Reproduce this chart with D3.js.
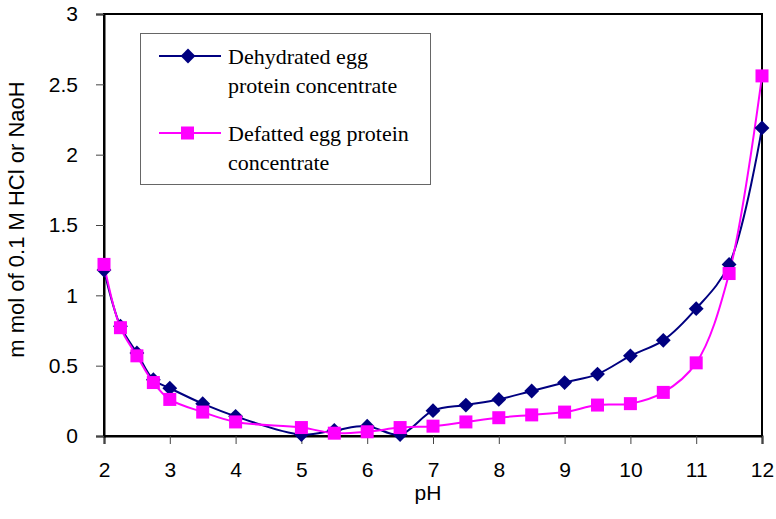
<!DOCTYPE html>
<html><head><meta charset="utf-8">
<script src="https://cdn.jsdelivr.net/npm/d3@7"></script>
<style>body{margin:0;background:#fff}svg{display:block}</style>
</head><body>
<script>
const pH = [2, 2.25, 2.5, 2.75, 3, 3.5, 4, 5, 5.5, 6, 6.5, 7, 7.5, 8, 8.5, 9, 9.5, 10, 10.5, 11, 11.5, 12];
const dehydrated = [1.18, 0.78, 0.59, 0.40, 0.34, 0.23, 0.14, 0.01, 0.04, 0.07, 0.01, 0.18, 0.22, 0.26, 0.32, 0.38, 0.44, 0.57, 0.68, 0.905, 1.22, 2.19];
const defatted = [1.22, 0.77, 0.57, 0.38, 0.26, 0.17, 0.10, 0.06, 0.02, 0.03, 0.06, 0.07, 0.10, 0.13, 0.15, 0.17, 0.22, 0.23, 0.31, 0.52, 1.155, 2.56];
const xTicks = [2, 3, 4, 5, 6, 7, 8, 9, 10, 11, 12];
const yTicks = [0, 0.5, 1, 1.5, 2, 2.5, 3];
const seriesNames = ["Dehydrated egg|protein concentrate", "Defatted egg protein|concentrate"];
const seriesColors = ["#000080", "#ff00ff"];

const W = 776, H = 519;
const svg = d3.select("body").append("svg").attr("width", W).attr("height", H);
const x = d3.scaleLinear().domain([2, 12]).range([104, 762]);
const y = d3.scaleLinear().domain([0, 3]).range([436, 14]);
const sans = "Liberation Sans, Arial, sans-serif";

// plot frame
svg.append("rect").attr("x", 104).attr("y", 14).attr("width", 658).attr("height", 422)
  .attr("fill", "none").attr("stroke", "#000").attr("stroke-width", 2);

const xAxis = svg.append("g").attr("transform", "translate(0,436)")
  .call(d3.axisBottom(x).tickValues(xTicks).tickSize(8).tickPadding(18).tickFormat(d3.format("d")));
const yAxis = svg.append("g").attr("transform", "translate(104,0)")
  .call(d3.axisLeft(y).tickValues(yTicks).tickSize(8).tickPadding(18).tickFormat(d => String(d)));
[xAxis, yAxis].forEach(g => {
  g.select(".domain").attr("stroke", "#000").attr("stroke-width", 2);
  g.selectAll(".tick line").attr("stroke", "#444").attr("stroke-width", 1);
  g.selectAll("text").attr("font-family", sans).attr("font-size", 21).attr("fill", "#000");
});
xAxis.selectAll("text").attr("dy", "0.71em");

svg.append("text").attr("x", 428).attr("y", 500).attr("text-anchor", "middle")
  .attr("font-family", sans).attr("font-size", 21).text("pH");
svg.append("text").attr("transform", "translate(24,219.5) rotate(-90)").attr("text-anchor", "middle")
  .attr("font-family", sans).attr("font-size", 22)
  .text("m mol of 0.1 M HCl or NaoH");

const line = d3.line().x(d => x(d[0])).y(d => y(d[1])).curve(d3.curveCatmullRom.alpha(0.5));

const data = [dehydrated, defatted];
data.forEach((vals, i) => {
  const pts = pH.map((p, j) => [p, vals[j]]);
  svg.append("path").attr("d", line(pts)).attr("fill", "none")
    .attr("stroke", seriesColors[i]).attr("stroke-width", 2);
});
// markers
const diamondPath = d3.symbol().type(d3.symbolSquare).size(110)();
svg.append("g").selectAll("path").data(pH.map((p, j) => [p, dehydrated[j]])).join("path")
  .attr("d", diamondPath)
  .attr("transform", d => `translate(${x(d[0])},${y(d[1])}) rotate(45)`)
  .attr("fill", seriesColors[0]);
svg.append("g").selectAll("rect").data(pH.map((p, j) => [p, defatted[j]])).join("rect")
  .attr("x", d => x(d[0]) - 6.5).attr("y", d => y(d[1]) - 6.5).attr("width", 13).attr("height", 13)
  .attr("fill", seriesColors[1]);

// legend
const lg = svg.append("g");
lg.append("rect").attr("x", 140.5).attr("y", 33.5).attr("width", 290).attr("height", 151)
  .attr("fill", "#fff").attr("stroke", "#666").attr("stroke-width", 1);
const legY = [56, 133];
seriesNames.forEach((name, i) => {
  const yy = legY[i];
  lg.append("line").attr("x1", 159).attr("x2", 221).attr("y1", yy).attr("y2", yy)
    .attr("stroke", seriesColors[i]).attr("stroke-width", 2);
  if (i === 0) {
    lg.append("path").attr("d", diamondPath)
      .attr("transform", `translate(188,${yy}) rotate(45)`).attr("fill", seriesColors[0]);
  } else {
    lg.append("rect").attr("x", 181).attr("y", yy - 6.5).attr("width", 13).attr("height", 13).attr("fill", seriesColors[1]);
  }
  name.split("|").forEach((t, k) => {
    lg.append("text").attr("x", 228).attr("y", yy + 8 + k * 29)
      .attr("font-family", "Liberation Serif, Times New Roman, serif").attr("font-size", 22).text(t);
  });
});
</script>
</body></html>
